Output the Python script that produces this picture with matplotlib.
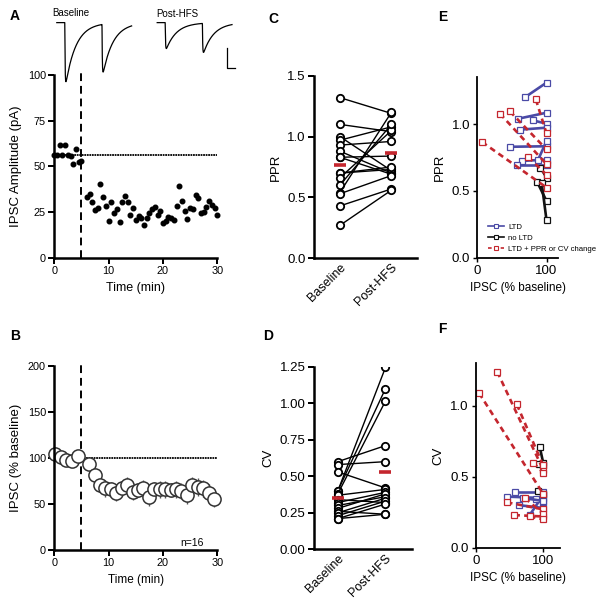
import numpy as np
import matplotlib.pyplot as plt

plt.rcParams['font.family'] = ['Liberation Sans', 'DejaVu Sans']

# ---------------- data ----------------
# A: example cell, IPSC amplitude (pA), one sweep every 30 s
a_time_base = np.arange(0, 5.01, 0.5)
a_amp_base = [56.5, 56.5, 61.5, 56.5, 61.5, 56.5, 55.5, 51.5, 59.5, 52.5, 53.0]
a_time_post = np.arange(6, 30.01, 0.5)
a_amp_post = [33.5, 35.0, 30.8, 26.2, 27.1, 40.3, 33.1, 28.4, 20.4, 30.8,
              24.8, 26.6, 19.5, 30.6, 34.0, 30.4, 23.5, 27.5, 20.8, 23.0,
              21.7, 18.0, 22.1, 24.8, 26.6, 28.0, 23.5, 25.7, 19.0, 20.4,
              22.6, 21.7, 20.8, 28.4, 39.3, 31.2, 25.7, 21.3, 27.5, 26.6,
              34.2, 33.0, 24.8, 25.2, 28.0, 31.2, 29.0, 27.1, 23.5]
hfs_time = 5

# example paired-pulse traces
trace_onsets = [20, 113]      # ms
trace_amp_base = [57, 46]     # pA
trace_amp_post = [25, 28]     # pA
trace_tau = 26                # ms
scale_ms, scale_pA = 20, 20

# B: group data (% baseline)
b_time_base = [0.2, 1.2, 2.2, 3.3, 4.4]
b_mean_base = [104.2, 100.6, 97.7, 96.9, 102.0]
b_sem_base = [4, 4, 4, 4, 4]
b_time_post = np.arange(6.4, 29.5, 1.0)
b_mean_post = [93.3, 81.3, 70.4, 66.8, 65.7, 62.0, 66.8, 70.4, 63.1, 65.0,
               66.8, 57.7, 65.7, 65.7, 65.7, 65.0, 65.7, 63.9, 59.6, 70.4,
               68.6, 66.8, 62.0, 55.2]
b_sem_post = [6, 7, 8, 9, 8, 9, 8, 9, 9, 8, 9, 10, 8, 9, 9, 8, 9, 9, 10, 9,
              10, 9, 9, 9]
n_cells = 16

# C, D: paired values per cell
conditions = ['Baseline', 'Post-HFS']
ppr_base = [1.32, 1.10, 1.00, 0.97, 0.93, 0.88, 0.83, 0.83, 0.70, 0.70,
            0.66, 0.60, 0.54, 0.53, 0.43, 0.27]
ppr_post = [1.19, 1.04, 0.72, 1.08, 0.96, 0.70, 0.84, 0.69, 0.73, 0.75,
            1.05, 1.10, 1.20, 0.68, 0.57, 0.56]
cv_base = [0.60, 0.58, 0.53, 0.40, 0.40, 0.38, 0.37, 0.34, 0.32, 0.30,
           0.28, 0.26, 0.25, 0.23, 0.21, 0.21]
cv_post = [0.71, 0.60, 0.42, 1.245, 1.10, 1.015, 0.41, 0.32, 0.39, 0.36,
           0.38, 0.24, 0.35, 0.33, 0.31, 0.24]

# E, F: post-HFS IPSC (% baseline) vs PPR / CV, by group
groups = ['LTD', 'no LTD', 'LTD + PPR or CV change']
e_ipsc = [68.7, 59, 80.7, 61.5, 47.1, 64, 57, 87.5, 91, 86.5, 93,
          84.6, 47.1, 32.7, 6.8, 73.5]
e_ppr_post = [1.20, 1.04, 1.027, 0.958, 0.83, 0.724, 0.692, 0.729,
              0.675, 0.567, 0.558, 1.184, 1.095, 1.078, 0.866, 0.754]
e_ppr_base = [1.31, 1.085, 1.003, 0.973, 0.834, 0.734, 0.692, 0.873,
              0.60, 0.424, 0.28, 0.93, 0.81, 0.70, 0.525, 0.62]
e_group = [0, 0, 0, 0, 0, 0, 0, 0, 1, 1, 1, 2, 2, 2, 2, 2]

f_ipsc = [58, 47, 64, 80, 89, 70, 95, 94, 92,
          5, 32, 61, 85, 46, 57, 73, 80]
f_cv_post = [0.39, 0.36, 0.30, 0.23, 0.34, 0.35, 0.71, 0.59, 0.40,
             1.09, 1.24, 1.01, 0.60, 0.32, 0.23, 0.35, 0.22]
f_cv_base = [0.39, 0.35, 0.28, 0.37, 0.32, 0.33, 0.60, 0.58, 0.38,
             0.38, 0.55, 0.58, 0.53, 0.27, 0.22, 0.24, 0.20]
f_group = [0, 0, 0, 0, 0, 0, 1, 1, 1, 2, 2, 2, 2, 2, 2, 2, 2]

group_colors = ['#4a4aa6', '#111111', '#c4262e']
group_ls = ['-', '-', (0, (2.2, 1.6))]
mean_color = '#c4262e'

# ---------------- figure ----------------
W, H = 601, 606
fig = plt.figure(figsize=(W / 100, H / 100), dpi=100)


def box(l, t, r, b):
    return [l / W, 1 - b / H, (r - l) / W, (b - t) / H]


def style(ax, lw=1.8, ticklen=4, labelsize=8):
    for s in ['top', 'right']:
        ax.spines[s].set_visible(False)
    for s in ['left', 'bottom']:
        ax.spines[s].set_linewidth(lw)
    ax.tick_params(direction='out', length=ticklen, width=lw * 0.8,
                   labelsize=labelsize, pad=2)


# ---- A ----
axA = fig.add_axes(box(54.3, 75, 217.3, 258))
style(axA, labelsize=7.8)
axA.plot(a_time_base, a_amp_base, 'o', color='k', ms=3.3, clip_on=False)
axA.plot(a_time_post, a_amp_post, 'o', color='k', ms=3.3, clip_on=False)
axA.plot([0, 30], [np.mean(a_amp_base)] * 2, color='k', lw=1.3,
         ls=(0, (1, 0.4)))
axA.plot([hfs_time, hfs_time], [0, 103], color='k', lw=1.4,
         ls=(0, (4, 2.5)), clip_on=False)
axA.set_xlim(0, 30)
axA.set_ylim(0, 100)
axA.set_xticks([0, 10, 20, 30])
axA.set_yticks([0, 25, 50, 75, 100])
axA.set_xlabel('Time (min)', fontsize=9)
axA.set_ylabel('IPSC Amplitude (pA)', fontsize=9.5)

# example traces above A
axT = fig.add_axes(box(50, 5, 240, 90))
axT.set_xlim(0, 475)
axT.set_ylim(-65, 17)
axT.axis('off')


def ipsc_trace(amps, length=187):
    t = np.linspace(0, length, 800)
    s_peak = np.linspace(0, 20, 400)
    norm = ((1 - np.exp(-s_peak / 0.8)) * np.exp(-s_peak / trace_tau)).max()
    cur = np.zeros_like(t)
    for a, t0 in zip(amps, trace_onsets):
        s = np.clip(t - t0, 0, None)
        cur -= a * (1 - np.exp(-s / 0.8)) * np.exp(-s / trace_tau) / norm
    return t, cur


tb, ib = ipsc_trace(trace_amp_base)
tp, ip = ipsc_trace(trace_amp_post)
axT.plot(tb + 17, ib, color='k', lw=0.9)
axT.plot(tp + 268, ip, color='k', lw=0.9)
axT.plot([442, 442, 442 + scale_ms], [-44 + scale_pA, -44, -44],
         color='k', lw=0.9)
axT.text(5, 9.5, 'Baseline', fontsize=7, ha='left', va='center')
axT.text(265, 8.5, 'Post-HFS', fontsize=7, ha='left', va='center')

# ---- B ----
axB = fig.add_axes(box(54.3, 366, 217.3, 549.7))
style(axB, labelsize=7.8)
axB.plot([hfs_time, 30], [100, 100], color='k', lw=1.3, ls=(0, (1, 0.4)))
axB.plot([hfs_time, hfs_time], [0, 205], color='k', lw=1.4,
         ls=(0, (4, 2.5)), clip_on=False)
for tt, mm, ss in [(b_time_base, b_mean_base, b_sem_base),
                   (b_time_post, b_mean_post, b_sem_post)]:
    axB.errorbar(tt, mm, yerr=ss, fmt='o', ms=9.5, mfc='white', mec='#333333',
                 mew=1.1, ecolor='#555555', elinewidth=1, capsize=0,
                 clip_on=False)
axB.text(25.3, 7.5, f'n={n_cells}', fontsize=7.5, ha='center', va='center')
axB.set_xlim(0, 30)
axB.set_ylim(0, 200)
axB.set_xticks([0, 10, 20, 30])
axB.set_yticks([0, 50, 100, 150, 200])
axB.set_xlabel('Time (min)', fontsize=8.5)
axB.set_ylabel('IPSC (% baseline)', fontsize=9.5)


# ---- C, D ----
def paired(ax, base, post, ylim, yticks, fmt, ylabel, xmax):
    style(ax, labelsize=9.5)
    ax.tick_params(axis='x', length=0)
    for b, p in zip(base, post):
        ax.plot([0, 1], [b, p], color='k', lw=1, marker='o', ms=5.3,
                mfc='white', mec='k', mew=1.3)
    ax.plot([0, 1], [np.mean(base), np.mean(post)], ls='none', marker='_',
            ms=9, mew=2.6, color=mean_color, zorder=5)
    ax.set_xlim(-0.5, xmax)
    ax.set_ylim(*ylim)
    ax.set_yticks(yticks)
    ax.set_yticklabels([fmt.format(v) for v in yticks])
    ax.set_xticks([0, 1])
    ax.set_xticklabels(conditions, rotation=45, ha='right',
                       rotation_mode='anchor', fontsize=9)
    ax.set_ylabel(ylabel, fontsize=9.5)


axC = fig.add_axes(box(314, 75.7, 417.3, 258.3))
paired(axC, ppr_base, ppr_post, (0, 1.5), [0, 0.5, 1.0, 1.5], '{:.1f}',
       'PPR', 1.5)
axD = fig.add_axes(box(314, 366.7, 411.7, 549.3))
paired(axD, cv_base, cv_post, (0, 1.25), [0, 0.25, 0.5, 0.75, 1.0, 1.25],
       '{:.2f}', 'CV', 1.55)


# ---- E, F ----
def scatter_groups(ax, ipsc, post, base, grp, ylim, xmax, ylabel):
    style(ax, lw=1.3, ticklen=3, labelsize=9.5)
    for x, yp, yb, g in zip(ipsc, post, base, grp):
        ax.plot([x, 100], [yp, yb], color=group_colors[g], ls=group_ls[g],
                lw=1.9, marker='s', ms=4.2, mfc='white',
                mec=group_colors[g], mew=0.9)
    ax.set_xlim(0, xmax)
    ax.set_ylim(*ylim)
    ax.set_xticks([0, 100])
    ax.set_yticks([0, 0.5, 1.0])
    ax.set_yticklabels(['0.0', '0.5', '1.0'])
    ax.set_xlabel('IPSC (% baseline)', fontsize=8.5)
    ax.set_ylabel(ylabel, fontsize=9.5)


axE = fig.add_axes(box(477.3, 77.3, 558.3, 257.7))
scatter_groups(axE, e_ipsc, e_ppr_post, e_ppr_base, e_group, (0, 1.35),
               117, 'PPR')
handles = [plt.Line2D([], [], color=c, ls=l, lw=1.2, marker='s', ms=3.5,
                      mfc='white', mec=c, mew=0.8)
           for c, l in zip(group_colors, group_ls)]
axE.legend(handles, groups, loc='lower left', bbox_to_anchor=(0.08, 0.0),
           frameon=False, fontsize=5.6, handlelength=2.0, handletextpad=0.5,
           labelspacing=0.45, borderaxespad=0.2)

axF = fig.add_axes(box(475.7, 363.3, 560, 547.7))
scatter_groups(axF, f_ipsc, f_cv_post, f_cv_base, f_group, (0, 1.30),
               125, 'CV')

# panel letters
for letter, x, y in [('A', 10, 9), ('C', 268, 12), ('E', 438, 10),
                     ('B', 10, 329), ('D', 263, 329), ('F', 438, 322)]:
    fig.text(x / W, 1 - y / H, letter, fontsize=10, fontweight='bold',
             va='top', ha='left')

fig.savefig('out.png', dpi=100)
